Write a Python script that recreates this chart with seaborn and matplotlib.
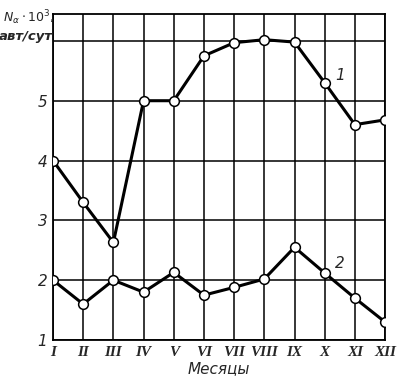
import matplotlib
matplotlib.use("Agg")
import matplotlib.pyplot as plt
import seaborn as sns
import pandas as pd

# месяцы и значения (читаются с графика)
mesyacy = ['I', 'II', 'III', 'IV', 'V', 'VI', 'VII', 'VIII', 'IX', 'X', 'XI', 'XII']
nomera = list(range(1, 13))
seriya_1 = [4.0, 3.3, 2.63, 5.0, 5.0, 5.75, 5.97, 6.02, 5.98, 5.3, 4.6, 4.68]
seriya_2 = [2.0, 1.6, 2.0, 1.8, 2.13, 1.75, 1.88, 2.02, 2.55, 2.12, 1.7, 1.3]
y_tiki = [1, 2, 3, 4, 5]

sns.set_style("white")
plt.rcParams['font.family'] = ['DejaVu Sans']
plt.rcParams['mathtext.fontset'] = 'dejavusans'

df = pd.DataFrame({'mes': nomera * 2,
                   'val': seriya_1 + seriya_2,
                   'ser': ['1'] * 12 + ['2'] * 12})

fig = plt.figure(figsize=(3.97, 3.88), dpi=100)
ax = fig.add_axes([0.1335, 0.1237, 0.8365, 0.8403])

# сетка
for x in nomera:
    ax.axvline(x, color='black', lw=1.1, zorder=1)
for y in [1, 2, 3, 4, 5, 6]:
    ax.axhline(y, color='black', lw=1.1, zorder=1)

sns.lineplot(data=df, x='mes', y='val', units='ser', estimator=None,
             color='black', lw=2.2, marker='o', markersize=7,
             markerfacecolor='white', markeredgecolor='black',
             markeredgewidth=1.1, ax=ax, zorder=3)

ax.set_xlim(1, 12)
ax.set_ylim(1, 6.45)
for s in ax.spines.values():
    s.set_linewidth(1.3)
    s.set_color('black')

ax.set_xticks(nomera)
ax.set_xticklabels(mesyacy, family='Liberation Serif', style='italic',
                   fontsize=11, fontweight='bold')
ax.set_yticks(y_tiki)
ax.set_yticklabels([str(v) for v in y_tiki], style='italic', fontsize=11)
ax.tick_params(length=0, pad=4)
ax.set_xlabel('Месяцы', style='italic', fontsize=11, labelpad=2)
ax.set_ylabel('')

# подписи кривых
ax.text(10.35, 5.35, '1', style='italic', fontsize=11)
ax.text(10.35, 2.2, '2', style='italic', fontsize=11)

fig.text(0.072, 0.955, r'$\mathbf{\it{N}}_{\alpha}\cdot 10^3$,', ha='center', va='center',
         fontsize=9)
fig.text(0.066, 0.905, 'авт/сут', ha='center', va='center', fontsize=9.5,
         style='italic', fontweight='bold')

fig.savefig('out.png', dpi=100)
